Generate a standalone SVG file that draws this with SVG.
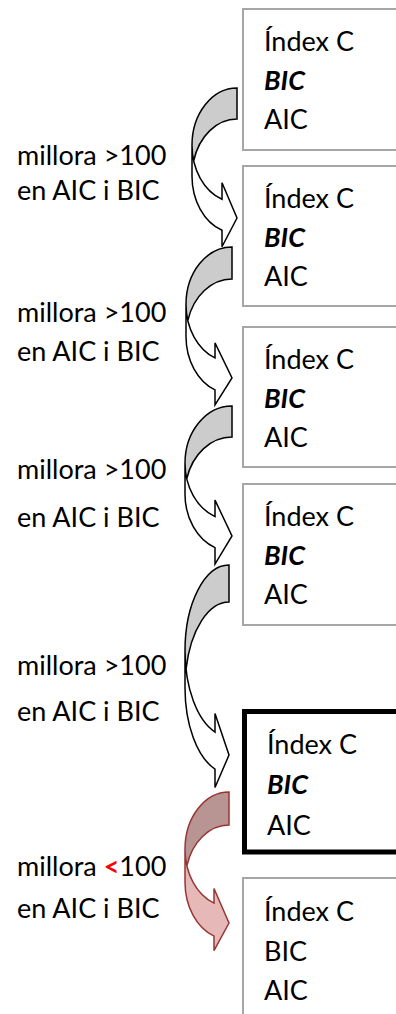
<svg xmlns="http://www.w3.org/2000/svg" width="396" height="1014" viewBox="0 0 396 1014">
  <style>
    .box { fill: #ffffff; stroke: #a6a6a6; stroke-width: 2; }
    .box-strong { fill: #ffffff; stroke: #000000; stroke-width: 5; }
    text { font-family: Lato, "Open Sans", "Liberation Sans", sans-serif; font-size: 27px; fill: #000000; }
    .em { font-weight: bold; font-style: italic; }
    .lt { fill: #ff0000; font-weight: bold; }
    .front { fill: #ffffff; stroke: none; }
    .back { fill: #cccccc; stroke: none; }
    .edge { fill: none; stroke: #000000; stroke-width: 1.5; stroke-linejoin: miter; }
    .front-r { fill: #e6b9b8; stroke: none; }
    .back-r { fill: #b89493; stroke: none; }
    .edge-r { fill: none; stroke: #953735; stroke-width: 1.5; stroke-linejoin: miter; }
  </style>

  <!-- model boxes -->
  <g id="model-1">
    <rect class="box" x="243" y="9" width="170" height="141"/>
    <text x="264" y="51">Índex C</text>
    <text x="264" y="90" class="em">BIC</text>
    <text x="264" y="129">AIC</text>
  </g>
  <g id="model-2">
    <rect class="box" x="243" y="166" width="170" height="140"/>
    <text x="264" y="208">Índex C</text>
    <text x="264" y="247" class="em">BIC</text>
    <text x="264" y="286">AIC</text>
  </g>
  <g id="model-3">
    <rect class="box" x="243" y="327" width="170" height="140"/>
    <text x="264" y="369">Índex C</text>
    <text x="264" y="408" class="em">BIC</text>
    <text x="264" y="447">AIC</text>
  </g>
  <g id="model-4">
    <rect class="box" x="243" y="484" width="170" height="141"/>
    <text x="264" y="526">Índex C</text>
    <text x="264" y="565" class="em">BIC</text>
    <text x="264" y="604">AIC</text>
  </g>
  <g id="model-5">
    <rect class="box-strong" x="244.5" y="711.5" width="170" height="140.5"/>
    <text x="267" y="754">Índex C</text>
    <text x="267" y="794" class="em">BIC</text>
    <text x="267" y="835">AIC</text>
  </g>
  <g id="model-6">
    <rect class="box" x="243" y="878" width="170" height="150"/>
    <text x="264" y="921">Índex C</text>
    <text x="264" y="961">BIC</text>
    <text x="264" y="1000">AIC</text>
  </g>

  <!-- step labels -->
  <g id="labels">
    <g id="label-1">
      <text x="17" y="165">millora &gt;100</text>
      <text x="17" y="200">en AIC i BIC</text>
    </g>
    <g id="label-2">
      <text x="17" y="322">millora &gt;100</text>
      <text x="17" y="361">en AIC i BIC</text>
    </g>
    <g id="label-3">
      <text x="17" y="479">millora &gt;100</text>
      <text x="17" y="527">en AIC i BIC</text>
    </g>
    <g id="label-4">
      <text x="17" y="675">millora &gt;100</text>
      <text x="17" y="721">en AIC i BIC</text>
    </g>
    <g id="label-5">
      <text x="17" y="876">millora <tspan class="lt">&lt;</tspan>100</text>
      <text x="17" y="918">en AIC i BIC</text>
    </g>
  </g>

  <!-- curved step arrows: back face, front band, outline -->
  <g id="connectors">
    <g id="arrow-1">
      <path class="front" d="M 192 145.25 A 45 57.25 0 0 0 222 199.23 L 222 182.73 L 237 218 L 222 246.73 L 222 230.23 A 45 57.25 0 0 1 192 176.25 Z"/>
      <path class="back" d="M 237 119 A 45 57.25 0 0 0 193.68 160.75 A 45 57.25 0 0 1 237 88 Z"/>
      <path class="edge" d="M 192 145.25 A 45 57.25 0 0 0 222 199.23 L 222 182.73 L 237 218 L 222 246.73 L 222 230.23 A 45 57.25 0 0 1 192 176.25 L 192 145.25 A 45 57.25 0 0 1 237 88 L 237 119 A 45 57.25 0 0 0 193.68 160.75"/>
    </g>
    <g id="arrow-2">
      <path class="front" d="M 186 304.5 A 46 57.5 0 0 0 215 357.93 L 215 342.93 L 232 378 L 215 404.93 L 215 389.93 A 46 57.5 0 0 1 186 336.5 Z"/>
      <path class="back" d="M 232 279 A 46 57.5 0 0 0 187.82 320.5 A 46 57.5 0 0 1 232 247 Z"/>
      <path class="edge" d="M 186 304.5 A 46 57.5 0 0 0 215 357.93 L 215 342.93 L 232 378 L 215 404.93 L 215 389.93 A 46 57.5 0 0 1 186 336.5 L 186 304.5 A 46 57.5 0 0 1 232 247 L 232 279 A 46 57.5 0 0 0 187.82 320.5"/>
    </g>
    <g id="arrow-3">
      <path class="front" d="M 185 463.25 A 47 57.25 0 0 0 215 516.62 L 215 500.12 L 232 536 L 215 564.12 L 215 547.62 A 47 57.25 0 0 1 185 494.25 Z"/>
      <path class="back" d="M 232 437 A 47 57.25 0 0 0 186.75 478.75 A 47 57.25 0 0 1 232 406 Z"/>
      <path class="edge" d="M 185 463.25 A 47 57.25 0 0 0 215 516.62 L 215 500.12 L 232 536 L 215 564.12 L 215 547.62 A 47 57.25 0 0 1 185 494.25 L 185 463.25 A 47 57.25 0 0 1 232 406 L 232 437 A 47 57.25 0 0 0 186.75 478.75"/>
    </g>
    <g id="arrow-4">
      <path class="front" d="M 185 650.75 A 44 85.75 0 0 0 215 732.04 L 215 713.54 L 229 755 L 215 787.54 L 215 769.04 A 44 85.75 0 0 1 185 687.75 Z"/>
      <path class="back" d="M 229 602 A 44 85.75 0 0 0 186.04 669.25 A 44 85.75 0 0 1 229 565 Z"/>
      <path class="edge" d="M 185 650.75 A 44 85.75 0 0 0 215 732.04 L 215 713.54 L 229 755 L 215 787.54 L 215 769.04 A 44 85.75 0 0 1 185 687.75 L 185 650.75 A 44 85.75 0 0 1 229 565 L 229 602 A 44 85.75 0 0 0 186.04 669.25"/>
    </g>
    <g id="arrow-5">
      <path class="front-r" d="M 185 849.25 A 44 57.25 0 0 0 214 903.07 L 214 888.57 L 229 923 L 214 950.57 L 214 936.07 A 44 57.25 0 0 1 185 882.25 Z"/>
      <path class="back-r" d="M 229 825 A 44 57.25 0 0 0 186.87 865.75 A 44 57.25 0 0 1 229 792 Z"/>
      <path class="edge-r" d="M 185 849.25 A 44 57.25 0 0 0 214 903.07 L 214 888.57 L 229 923 L 214 950.57 L 214 936.07 A 44 57.25 0 0 1 185 882.25 L 185 849.25 A 44 57.25 0 0 1 229 792 L 229 825 A 44 57.25 0 0 0 186.87 865.75"/>
    </g>
  </g>
</svg>
